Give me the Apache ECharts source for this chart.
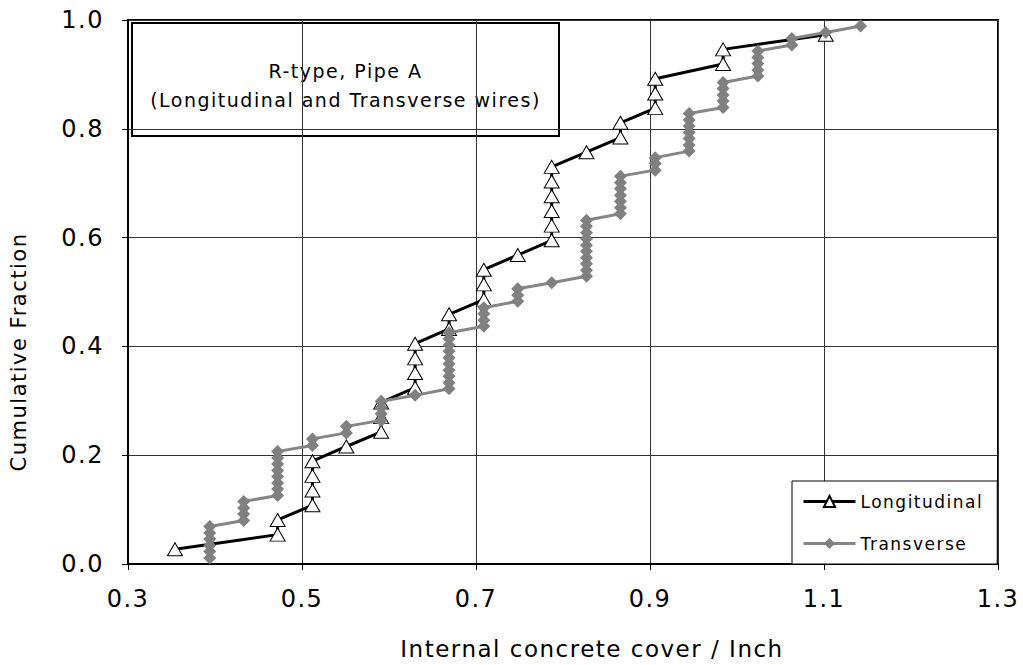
<!DOCTYPE html>
<html>
<head>
<meta charset="utf-8">
<script src="https://cdn.jsdelivr.net/npm/echarts@6/dist/echarts.min.js"></script>
<style>
html,body{margin:0;padding:0;background:#fff;}
#chart{width:1023px;height:665px;}
#chart text{letter-spacing:1.5px;}
</style>
</head>
<body>
<div id="chart"></div>
<script>
// Internal concrete cover (inch) and cumulative fraction
const longX = [0.354,0.472,0.472,0.512,0.512,0.512,0.512,0.551,0.591,0.591,0.591,
  0.630,0.630,0.630,0.630,0.669,0.669,0.709,0.709,0.709,0.748,
  0.787,0.787,0.787,0.787,0.787,0.787,0.827,0.866,0.866,0.906,0.906,0.906,
  0.984,0.984,1.102];
const longY = [0.027,0.054,0.081,0.108,0.135,0.162,0.189,0.216,0.243,0.270,0.297,
  0.324,0.351,0.378,0.405,0.432,0.459,0.486,0.514,0.541,0.568,
  0.595,0.622,0.649,0.676,0.703,0.730,0.757,0.784,0.811,0.838,0.865,0.892,
  0.919,0.946,0.973];
const transX = [0.394,0.394,0.394,0.394,0.394,0.394,
  0.433,0.433,0.433,0.433,
  0.472,0.472,0.472,0.472,0.472,0.472,0.472,0.472,
  0.512,0.512,0.551,0.551,
  0.591,0.591,0.591,0.591,0.630,
  0.669,0.669,0.669,0.669,0.669,0.669,0.669,0.669,0.669,0.669,
  0.709,0.709,0.709,0.709,0.748,0.748,0.748,0.787,
  0.827,0.827,0.827,0.827,0.827,0.827,0.827,0.827,0.827,0.827,
  0.866,0.866,0.866,0.866,0.866,0.866,0.866,
  0.906,0.906,0.906,
  0.945,0.945,0.945,0.945,0.945,0.945,0.945,
  0.984,0.984,0.984,0.984,0.984,
  1.024,1.024,1.024,1.024,1.024,
  1.063,1.063,1.102,1.142];
const transY = [0.011,0.023,0.034,0.046,0.057,0.069,
  0.080,0.092,0.103,0.115,
  0.126,0.138,0.149,0.161,0.172,0.184,0.195,0.207,
  0.218,0.230,0.241,0.253,
  0.264,0.276,0.287,0.299,0.310,
  0.322,0.333,0.345,0.356,0.368,0.379,0.391,0.402,0.414,0.425,
  0.437,0.448,0.460,0.471,0.483,0.494,0.506,0.517,
  0.529,0.540,0.552,0.563,0.575,0.586,0.598,0.609,0.621,0.632,
  0.644,0.655,0.667,0.678,0.690,0.701,0.713,
  0.724,0.736,0.747,
  0.759,0.770,0.782,0.793,0.805,0.816,0.828,
  0.839,0.851,0.862,0.874,0.885,
  0.897,0.908,0.920,0.931,0.943,
  0.954,0.966,0.977,0.989];
const xTicks = {min:0.3, max:1.3, step:0.2};
const yTicks = {min:0, max:1.0, step:0.2};
const annotation = ['R-type, Pipe A', '(Longitudinal and Transverse wires)'];

const FONT = '"DejaVu Sans", Verdana, sans-serif';
const chart = echarts.init(document.getElementById('chart'), null, {renderer:'svg'});
const zip = (a,b) => a.map((v,i)=>[v,b[i]]);

chart.setOption({
  animation:false,
  backgroundColor:'#fff',
  grid:{left:128, right:25, top:20, bottom:97, show:true, borderColor:'#000', borderWidth:2, containLabel:false},
  xAxis:{
    type:'value', min:xTicks.min, max:xTicks.max, interval:xTicks.step,
    name:'Internal concrete cover / Inch', nameLocation:'middle', nameGap:73,
    nameTextStyle:{fontFamily:FONT, fontSize:23, color:'#000', padding:[0,0,0,58]},
    axisLine:{show:true, onZero:false, lineStyle:{color:'#000', width:2}},
    axisTick:{show:true, length:6, lineStyle:{color:'#000'}},
    axisLabel:{fontFamily:FONT, fontSize:24, color:'#000', margin:23, formatter:v=>v.toFixed(1)},
    splitLine:{show:true, lineStyle:{color:'#333', width:1}}
  },
  yAxis:{
    type:'value', min:yTicks.min, max:yTicks.max, interval:yTicks.step,
    name:'Cumulative Fraction', nameLocation:'middle', nameGap:99,
    nameTextStyle:{fontFamily:FONT, fontSize:21, color:'#000', padding:[0,120,0,0]},
    axisLine:{show:true, lineStyle:{color:'#000', width:2}},
    axisTick:{show:true, length:6, lineStyle:{color:'#000'}},
    axisLabel:{fontFamily:FONT, fontSize:24, color:'#000', margin:24, formatter:v=>v.toFixed(1)},
    splitLine:{show:true, lineStyle:{color:'#333', width:1}}
  },
  legend:{
    orient:'vertical', left:792, top:481,
    backgroundColor:'#fff', borderColor:'#000', borderWidth:1,
    padding:[12,32,12,10], itemGap:25, itemWidth:52, itemHeight:14,
    lineStyle:{width:3},
    textStyle:{fontFamily:FONT, fontSize:17, color:'#000'},
    data:['Longitudinal','Transverse']
  },
  graphic:[{
    type:'group', left:131, top:22, z:100,
    children:[
      {type:'rect', shape:{x:0,y:0,width:427,height:113}, style:{fill:'#fff', stroke:'#000', lineWidth:2}},
      {type:'text', x:213.5, y:48, style:{text:annotation[0], font:'19px '+FONT, fill:'#000', align:'center', verticalAlign:'middle'}},
      {type:'text', x:213.5, y:77, style:{text:annotation[1], font:'19px '+FONT, fill:'#000', align:'center', verticalAlign:'middle'}}
    ]
  }],
  series:[
    {
      name:'Longitudinal', type:'line', data:zip(longX,longY),
      symbol:'triangle', symbolSize:[15,13],
      lineStyle:{color:'#000', width:3},
      itemStyle:{color:'#fff', borderColor:'#000', borderWidth:1},
      z:2
    },
    {
      name:'Transverse', type:'line', data:zip(transX,transY),
      symbol:'diamond', symbolSize:13,
      lineStyle:{color:'#858585', width:3},
      itemStyle:{color:'#808080', borderColor:'#808080', borderWidth:0},
      z:3
    }
  ]
});
</script>
</body>
</html>
